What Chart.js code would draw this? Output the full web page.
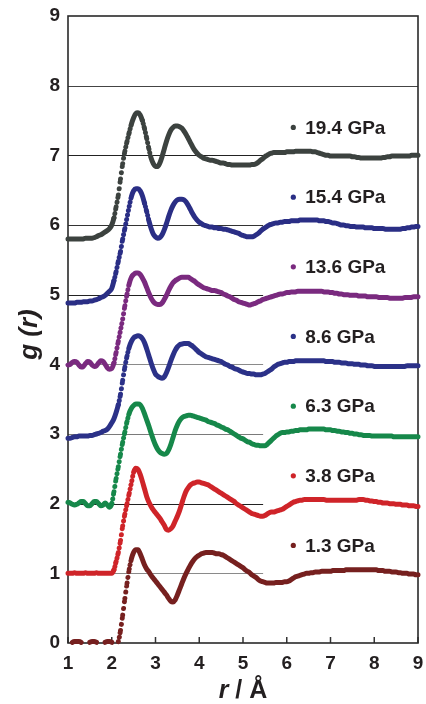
<!DOCTYPE html>
<html>
<head>
<meta charset="utf-8">
<script src="https://cdn.jsdelivr.net/npm/chart.js@4.4.1/dist/chart.umd.min.js"></script>
<style>
  html, body { margin: 0; padding: 0; background: #fff; }
  .wrap { width: 426px; height: 704px; }
</style>
</head>
<body>
<div class="wrap"><canvas id="grChart"></canvas></div>
<script>
// sampling grid, r from 1.00 to 9.00 A every 0.05
const r = Array.from({ length: 161 }, (_, i) => Math.round((1 + i * 0.05) * 100) / 100);

const pressures = ["19.4 GPa", "15.4 GPa", "13.6 GPa", "8.6 GPa", "6.3 GPa", "3.8 GPa", "1.3 GPa"];
const colors = ["#3c423f", "#2a2e85", "#7a2a7f", "#2b3188", "#16884a", "#cf2429", "#76201f"];

// g(r) curves (already stacked with their offsets)
const g194 = [
  5.80,5.80,5.80,5.80,5.80,5.80,5.80,5.80,5.81,5.81,
  5.81,5.81,5.82,5.83,5.85,5.86,5.88,5.90,5.92,5.95,
  6.00,6.10,6.26,6.43,6.66,6.88,7.06,7.20,7.33,7.45,
  7.54,7.60,7.61,7.58,7.50,7.38,7.24,7.09,6.96,6.88,
  6.84,6.84,6.89,6.98,7.09,7.20,7.29,7.36,7.40,7.42,
  7.42,7.41,7.39,7.35,7.30,7.24,7.18,7.12,7.07,7.03,
  7.00,6.98,6.96,6.95,6.94,6.93,6.93,6.92,6.91,6.90,
  6.89,6.89,6.88,6.87,6.87,6.86,6.86,6.86,6.86,6.86,
  6.86,6.86,6.86,6.86,6.87,6.87,6.88,6.90,6.93,6.95,
  6.98,7.00,7.02,7.03,7.04,7.04,7.04,7.04,7.04,7.04,
  7.05,7.05,7.05,7.05,7.06,7.06,7.06,7.06,7.06,7.06,
  7.06,7.06,7.05,7.05,7.04,7.03,7.02,7.01,7.00,7.00,
  6.99,6.99,6.99,6.99,6.99,6.99,6.99,6.99,6.99,6.99,
  6.98,6.98,6.97,6.97,6.96,6.96,6.96,6.96,6.96,6.96,
  6.96,6.96,6.96,6.96,6.97,6.97,6.98,6.98,6.99,6.99,
  6.99,6.99,6.99,6.99,6.99,6.99,6.99,7.00,7.00,7.00,
  7.00
];
const g154 = [
  4.88,4.88,4.88,4.88,4.89,4.89,4.89,4.90,4.90,4.90,
  4.91,4.91,4.92,4.93,4.94,4.96,4.97,4.99,5.02,5.05,
  5.09,5.20,5.33,5.48,5.62,5.80,5.95,6.11,6.27,6.41,
  6.49,6.52,6.52,6.49,6.42,6.31,6.19,6.06,5.95,5.87,
  5.83,5.81,5.82,5.86,5.93,6.02,6.12,6.21,6.28,6.33,
  6.36,6.37,6.37,6.36,6.33,6.28,6.22,6.16,6.11,6.07,
  6.04,6.02,6.00,5.99,5.98,5.97,5.97,5.96,5.96,5.95,
  5.95,5.94,5.94,5.93,5.92,5.91,5.90,5.89,5.88,5.86,
  5.85,5.84,5.83,5.83,5.83,5.84,5.86,5.88,5.91,5.94,
  5.96,5.98,6.00,6.01,6.02,6.03,6.03,6.04,6.04,6.05,
  6.05,6.05,6.06,6.06,6.06,6.06,6.07,6.07,6.07,6.07,
  6.07,6.07,6.07,6.07,6.07,6.06,6.06,6.06,6.05,6.05,
  6.04,6.03,6.03,6.02,6.01,6.00,6.00,5.99,5.99,5.98,
  5.98,5.98,5.97,5.97,5.97,5.97,5.96,5.96,5.96,5.96,
  5.95,5.95,5.95,5.95,5.95,5.94,5.94,5.94,5.94,5.94,
  5.94,5.94,5.94,5.95,5.95,5.96,5.96,5.97,5.97,5.98,
  5.98
];
const g136 = [
  3.99,4.00,4.03,4.04,4.03,3.99,3.96,3.97,4.01,4.04,
  4.03,3.99,3.97,3.98,4.02,4.05,4.04,4.00,3.95,3.93,
  3.94,4.02,4.17,4.33,4.49,4.65,4.84,5.01,5.16,5.25,
  5.29,5.31,5.31,5.29,5.24,5.18,5.10,5.02,4.95,4.90,
  4.87,4.86,4.86,4.88,4.93,4.99,5.06,5.12,5.17,5.20,
  5.22,5.24,5.25,5.25,5.25,5.25,5.23,5.21,5.19,5.16,
  5.14,5.12,5.10,5.09,5.08,5.07,5.06,5.06,5.05,5.04,
  5.03,5.01,5.00,4.98,4.97,4.95,4.93,4.92,4.90,4.89,
  4.88,4.87,4.86,4.85,4.86,4.87,4.88,4.90,4.91,4.93,
  4.94,4.95,4.96,4.97,4.98,4.99,5.00,5.01,5.01,5.02,
  5.03,5.03,5.04,5.04,5.04,5.05,5.05,5.05,5.05,5.05,
  5.05,5.05,5.05,5.05,5.05,5.05,5.05,5.04,5.04,5.04,
  5.03,5.03,5.02,5.02,5.01,5.01,5.00,5.00,5.00,4.99,
  4.99,4.99,4.99,4.98,4.98,4.98,4.98,4.97,4.97,4.97,
  4.97,4.97,4.96,4.96,4.96,4.96,4.96,4.95,4.95,4.95,
  4.95,4.95,4.95,4.95,4.96,4.96,4.96,4.96,4.97,4.97,
  4.97
];
const g86 = [
  2.94,2.94,2.95,2.96,2.96,2.97,2.97,2.97,2.97,2.97,
  2.98,2.98,2.99,3.00,3.01,3.02,3.04,3.05,3.07,3.11,
  3.16,3.22,3.31,3.42,3.57,3.77,3.96,4.12,4.25,4.33,
  4.38,4.40,4.41,4.40,4.37,4.31,4.22,4.12,4.02,3.93,
  3.86,3.83,3.81,3.80,3.82,3.88,3.96,4.05,4.13,4.20,
  4.25,4.28,4.29,4.30,4.30,4.30,4.28,4.26,4.23,4.20,
  4.17,4.15,4.13,4.11,4.10,4.09,4.08,4.07,4.06,4.05,
  4.04,4.02,4.00,3.99,3.97,3.96,3.94,3.93,3.92,3.90,
  3.89,3.88,3.87,3.87,3.86,3.86,3.85,3.85,3.85,3.86,
  3.87,3.89,3.91,3.93,3.96,3.98,4.00,4.01,4.02,4.03,
  4.03,4.04,4.04,4.04,4.05,4.05,4.05,4.05,4.05,4.05,
  4.05,4.05,4.05,4.05,4.05,4.05,4.05,4.05,4.04,4.04,
  4.04,4.04,4.03,4.03,4.03,4.02,4.02,4.02,4.01,4.01,
  4.01,4.00,4.00,4.00,3.99,3.99,3.99,3.98,3.98,3.98,
  3.97,3.97,3.97,3.97,3.97,3.97,3.97,3.97,3.97,3.97,
  3.97,3.97,3.97,3.97,3.97,3.98,3.98,3.98,3.98,3.98,
  3.98
];
const g63 = [
  2.02,2.01,1.99,1.98,1.99,2.01,2.03,2.03,2.00,1.97,
  1.97,2.00,2.03,2.03,2.00,1.97,1.98,2.01,1.98,1.95,
  2.00,2.17,2.36,2.53,2.71,2.88,3.03,3.18,3.30,3.37,
  3.41,3.43,3.43,3.42,3.37,3.29,3.20,3.11,3.01,2.92,
  2.84,2.78,2.74,2.72,2.71,2.72,2.77,2.85,2.95,3.05,
  3.13,3.19,3.23,3.25,3.26,3.27,3.27,3.26,3.25,3.24,
  3.23,3.22,3.21,3.20,3.18,3.17,3.16,3.15,3.13,3.12,
  3.10,3.09,3.07,3.06,3.04,3.02,3.00,2.98,2.96,2.94,
  2.93,2.91,2.89,2.88,2.86,2.85,2.84,2.84,2.83,2.83,
  2.83,2.85,2.88,2.91,2.94,2.97,2.99,3.01,3.02,3.02,
  3.03,3.03,3.04,3.04,3.05,3.05,3.06,3.06,3.06,3.06,
  3.07,3.07,3.07,3.07,3.07,3.07,3.07,3.07,3.06,3.06,
  3.06,3.05,3.05,3.04,3.04,3.03,3.03,3.02,3.02,3.01,
  3.01,3.00,3.00,2.99,2.99,2.98,2.98,2.98,2.98,2.97,
  2.97,2.97,2.97,2.97,2.97,2.97,2.97,2.97,2.97,2.96,
  2.96,2.96,2.96,2.96,2.96,2.96,2.96,2.96,2.96,2.96,
  2.96
];
const g38 = [
  1.00,1.00,1.00,1.01,1.00,1.00,1.00,1.00,1.01,1.00,
  1.00,1.00,1.00,1.01,1.00,1.00,1.00,1.00,1.00,1.00,
  1.00,1.05,1.17,1.30,1.47,1.68,1.85,2.00,2.15,2.30,
  2.45,2.51,2.49,2.42,2.32,2.21,2.10,2.02,1.96,1.91,
  1.87,1.83,1.79,1.74,1.69,1.63,1.62,1.64,1.68,1.75,
  1.82,1.90,2.00,2.10,2.18,2.23,2.27,2.29,2.30,2.31,
  2.31,2.30,2.29,2.28,2.27,2.25,2.23,2.21,2.19,2.17,
  2.15,2.13,2.11,2.09,2.07,2.05,2.03,2.00,1.98,1.96,
  1.94,1.92,1.90,1.88,1.86,1.85,1.84,1.83,1.82,1.82,
  1.83,1.85,1.87,1.88,1.88,1.89,1.90,1.91,1.92,1.94,
  1.96,1.98,2.00,2.02,2.03,2.04,2.05,2.05,2.06,2.06,
  2.06,2.06,2.06,2.06,2.06,2.06,2.06,2.06,2.05,2.05,
  2.05,2.05,2.05,2.05,2.05,2.05,2.05,2.05,2.05,2.05,
  2.05,2.05,2.05,2.06,2.06,2.06,2.05,2.05,2.04,2.04,
  2.03,2.03,2.02,2.02,2.01,2.01,2.01,2.00,2.00,2.00,
  1.99,1.99,1.99,1.98,1.98,1.98,1.97,1.97,1.97,1.96,
  1.96
];
const g13 = [
  -0.03,-0.02,0.01,0.02,0.02,0.02,0.01,-0.02,-0.03,-0.01,
  0.01,0.02,0.02,0.01,-0.01,-0.03,-0.01,0.01,0.02,0.02,
  0.01,-0.01,-0.02,0.02,0.18,0.40,0.64,0.86,1.06,1.21,
  1.30,1.34,1.34,1.28,1.20,1.12,1.06,1.02,0.97,0.93,
  0.89,0.85,0.81,0.77,0.73,0.69,0.64,0.60,0.59,0.62,
  0.69,0.77,0.85,0.93,1.00,1.06,1.12,1.17,1.21,1.24,
  1.26,1.28,1.29,1.30,1.30,1.30,1.30,1.29,1.28,1.28,
  1.27,1.26,1.24,1.22,1.20,1.18,1.16,1.14,1.12,1.10,
  1.08,1.05,1.03,1.01,0.98,0.96,0.94,0.91,0.89,0.88,
  0.87,0.86,0.86,0.86,0.86,0.87,0.87,0.87,0.87,0.88,
  0.88,0.89,0.91,0.93,0.95,0.96,0.97,0.98,0.99,1.00,
  1.00,1.01,1.01,1.02,1.02,1.02,1.03,1.03,1.03,1.03,
  1.03,1.04,1.04,1.04,1.04,1.04,1.04,1.05,1.05,1.05,
  1.05,1.05,1.05,1.05,1.05,1.05,1.05,1.05,1.05,1.05,
  1.05,1.05,1.04,1.04,1.04,1.03,1.03,1.03,1.02,1.02,
  1.02,1.01,1.01,1.00,1.00,1.00,0.99,0.99,0.99,0.98,
  0.98
];
const series = [g194, g154, g136, g86, g63, g38, g13];

const xTicks = [1, 2, 3, 4, 5, 6, 7, 8, 9];
const yTicks = [0, 1, 2, 3, 4, 5, 6, 7, 8, 9];

const FONT = "'Liberation Sans', Arial, Helvetica, sans-serif";
Chart.defaults.font.family = FONT;

// steep parts of a curve look like a string of separate dots in the original
function steepDash(ctx) {
  const dx = Math.abs(ctx.p1.x - ctx.p0.x) || 1e-6;
  const slope = Math.abs(ctx.p1.y - ctx.p0.y) / dx;
  if (slope < 3.6) return undefined;
  return [0.01, 0.875 * Math.hypot(1, slope)];
}

// values below g = 0 are off the plot
function hideBelowAxis(ctx) {
  const d = ctx.chart.data.datasets[ctx.datasetIndex].data;
  if (d[ctx.p0DataIndex].y < 0 || d[ctx.p1DataIndex].y < 0) return "rgba(0,0,0,0)";
  return undefined;
}

const gridColors = { 1: "#8a8a8a", 2: "#222", 3: "#7a7a7a", 4: "#8a8a8a", 5: "#222", 6: "#333", 7: "#222", 8: "#444" };

const framePlugin = {
  id: "frame",
  beforeDatasetsDraw(chart) {
    const { ctx, chartArea: { left, right, top, bottom }, scales: { x, y } } = chart;
    ctx.save();
    ctx.lineWidth = 1;
    for (let v = 1; v <= 8; v++) {
      const py = Math.round(y.getPixelForValue(v)) + 0.5;
      ctx.strokeStyle = gridColors[v];
      ctx.beginPath();
      ctx.moveTo(left, py);
      ctx.lineTo(v === 8 ? right : x.getPixelForValue(5.46), py);
      ctx.stroke();
    }
    // inward tick marks on the r axis
    ctx.strokeStyle = "#333";
    ctx.lineWidth = 1.5;
    xTicks.forEach((t) => {
      const px = x.getPixelForValue(t);
      ctx.beginPath();
      ctx.moveTo(px, bottom);
      ctx.lineTo(px, bottom - 6);
      ctx.stroke();
    });
    ctx.strokeStyle = "#2a2a2a";
    ctx.lineWidth = 1.6;
    ctx.strokeRect(left, top, right - left, bottom - top);
    ctx.restore();
  },
  afterDraw(chart) {
    const { ctx, chartArea: { left, right, top, bottom }, scales: { x, y } } = chart;
    ctx.save();
    // labels inside the plot
    ctx.font = "bold 19px " + FONT;
    ctx.textBaseline = "middle";
    ctx.textAlign = "left";
    pressures.forEach((name, i) => {
      const py = y.getPixelForValue(7.4 - i);
      ctx.fillStyle = colors[i];
      ctx.beginPath();
      ctx.arc(x.getPixelForValue(6.15), py, 2.6, 0, Math.PI * 2);
      ctx.fill();
      ctx.fillStyle = "#231f20";
      ctx.fillText(name, x.getPixelForValue(6.42), py + 1);
    });

    // y axis title
    ctx.save();
    ctx.translate(30, (top + bottom) / 2 + 5);
    ctx.rotate(-Math.PI / 2);
    ctx.font = "italic bold 26px " + FONT;
    ctx.textAlign = "center";
    ctx.textBaseline = "middle";
    ctx.fillStyle = "#231f20";
    ctx.fillText("g (r)", 0, 0);
    ctx.restore();

    // x axis title: italic r, upright rest
    const partA = "r";
    const partB = " / Å";
    ctx.fillStyle = "#231f20";
    ctx.textBaseline = "alphabetic";
    ctx.font = "italic bold 25px " + FONT;
    const wA = ctx.measureText(partA).width;
    ctx.font = "bold 25px " + FONT;
    const wB = ctx.measureText(partB).width;
    const startX = (left + right) / 2 - (wA + wB) / 2;
    ctx.font = "italic bold 25px " + FONT;
    ctx.fillText(partA, startX, 698);
    ctx.font = "bold 25px " + FONT;
    ctx.fillText(partB, startX + wA, 698);
    ctx.restore();
  },
};

const datasets = pressures.map((name, i) => ({
  label: name,
  data: r.map((rv, k) => ({ x: rv, y: series[i][k] })),
  borderColor: colors[i],
  backgroundColor: colors[i],
  borderWidth: 5,
  borderCapStyle: "round",
  borderJoinStyle: "round",
  pointRadius: 0,
  pointHoverRadius: 0,
  cubicInterpolationMode: "monotone",
  clip: false,
  segment: { borderDash: steepDash, borderColor: hideBelowAxis },
}));

const grCtx = document.getElementById("grChart").getContext("2d");
const grChart = new Chart(grCtx, {
  type: "line",
  data: { datasets },
  options: {
    responsive: true,
    maintainAspectRatio: false,
    animation: false,
    events: [],
    layout: { padding: { left: 0, right: 8, top: 16, bottom: 0 } },
    scales: {
      x: {
        type: "linear",
        min: 1,
        max: 9,
        afterFit: (s) => {
          s.height = 61;
          s.paddingLeft = 0;
          s.paddingRight = 0;
        },
        afterBuildTicks: (s) => { s.ticks = xTicks.map((v) => ({ value: v })); },
        grid: { display: false, drawTicks: false },
        border: { display: false },
        ticks: {
          padding: 9,
          color: "#231f20",
          font: { size: 19, weight: "bold" },
        },
      },
      y: {
        min: 0,
        max: 9,
        afterFit: (s) => {
          s.width = 68;
          s.paddingTop = 0;
          s.paddingBottom = 0;
        },
        afterBuildTicks: (s) => { s.ticks = yTicks.map((v) => ({ value: v })); },
        grid: { display: false, drawTicks: false },
        border: { display: false },
        ticks: {
          padding: 8,
          color: "#231f20",
          font: { size: 19, weight: "bold" },
        },
      },
    },
    plugins: {
      legend: { display: false },
      tooltip: { enabled: false },
    },
  },
  plugins: [framePlugin],
});
</script>
</body>
</html>
